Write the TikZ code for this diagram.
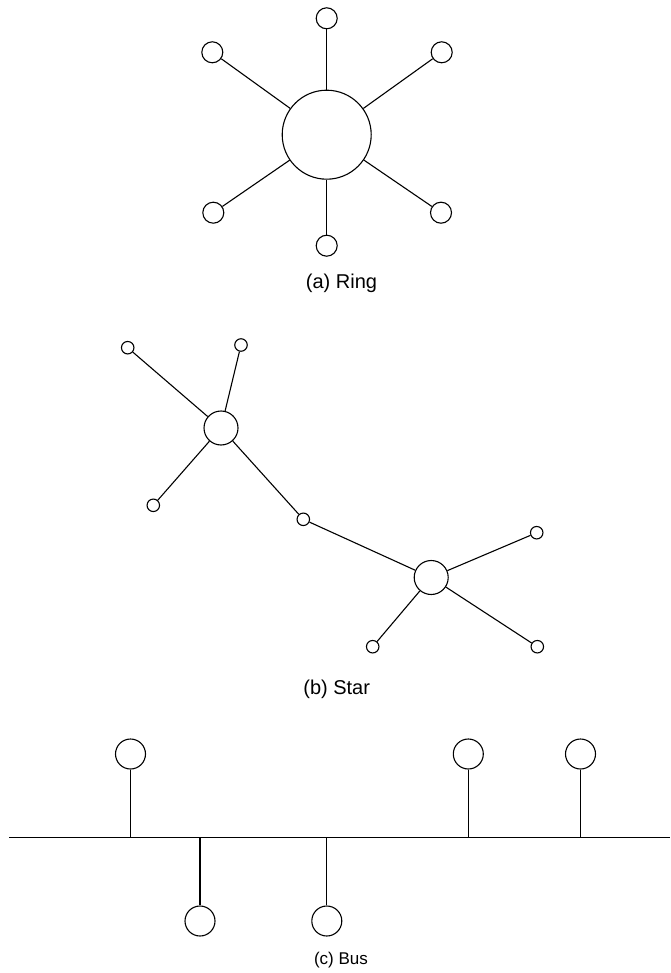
\documentclass[tikz,border=0pt]{standalone}
\usepackage{fontspec}
\setmainfont{Liberation Sans}
\begin{document}
\begin{tikzpicture}[x=1pt,y=-1pt, line width=1.1pt,
  dot/.style={circle,draw,fill=white,inner sep=0pt,minimum size=#1},
  lbl/.style={anchor=base,font=\fontsize{20}{24}\selectfont},
  lblsmall/.style={anchor=base,font=\fontsize{17}{20}\selectfont}]
\useasboundingbox (0,0) rectangle (670,973);

% (a) Ring
\node[dot=89] (rc) at (326.7,134.7) {};
\node[dot=21] (r1) at (326.7,18.3) {};
\node[dot=21] (r2) at (212.3,52.3) {};
\node[dot=21] (r3) at (441.7,52.3) {};
\node[dot=21] (r4) at (213.3,212.7) {};
\node[dot=21] (r5) at (441,212.7) {};
\node[dot=21] (r6) at (326.7,245.7) {};
\foreach \n in {r1,r2,r3,r4,r5,r6} \draw (rc) -- (\n);
\node[lbl] (la) at (341.5,288) {(a) Ring};

% (b) Star
\node[dot=34] (h1) at (221,428) {};
\node[dot=34] (h2) at (431.2,577.5) {};
\node[dot=12.5] (s1) at (127.7,347.7) {};
\node[dot=12.5] (s2) at (241,345) {};
\node[dot=12.5] (s3) at (153.3,505.3) {};
\node[dot=12.5] (sm) at (303.3,519.3) {};
\node[dot=12.5] (s4) at (536.7,532.7) {};
\node[dot=12.5] (s5) at (372.7,646.7) {};
\node[dot=12.5] (s6) at (537.3,646.7) {};
\draw (h1) -- (s1);
\draw (h1) -- (s2);
\draw (h1) -- (s3);
\draw (h1) -- (sm);
\draw (sm) -- (h2);
\draw (h2) -- (s4);
\draw (h2) -- (s5);
\draw (h2) -- (s6);
\node[lbl] (lb) at (336.7,694) {(b) Star};

% (c) Bus
\coordinate (busL) at (9,837.7);
\coordinate (busR) at (670,837.7);
\draw (busL) -- (busR);
\node[dot=30] (u1) at (130.5,754) {};
\node[dot=30] (u2) at (468.3,754) {};
\node[dot=30] (u3) at (580.5,754) {};
\node[dot=30] (d1) at (200,921) {};
\node[dot=30] (d2) at (326.8,921) {};
\foreach \n in {u1,u2,u3} \draw (\n.south) -- (\n.south |- busL);
\foreach \n in {d1,d2} \draw (\n.north) -- (\n.north |- busL);
\node[lblsmall] (lc) at (341,964) {(c) Bus};
\end{tikzpicture}
\end{document}
